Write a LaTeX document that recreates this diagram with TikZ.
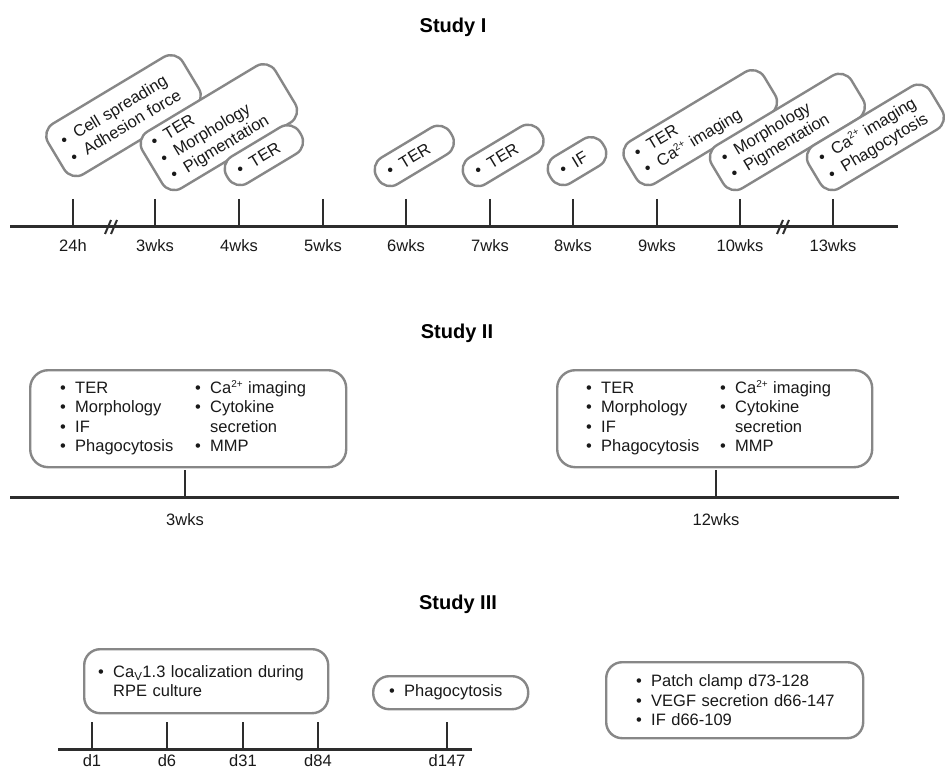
\documentclass[tikz,border=0pt]{standalone}
\usepackage{fontspec}
\setmainfont{Liberation Sans}
\definecolor{axis}{RGB}{45,45,45}
\definecolor{boxc}{RGB}{135,135,135}
\definecolor{txt}{RGB}{25,25,25}
\newcommand{\fs}{\fontsize{16.5}{19.3}\selectfont}
\newcommand{\bl}[1]{\makebox[15pt][l]{\textbullet}#1}
\newcommand{\ind}{\hspace*{15pt}}
\newcommand{\tp}{\raisebox{6pt}{\fontsize{10}{10}\selectfont 2+}}
\begin{document}
\begin{tikzpicture}[x=1pt,y=-1pt,
  tl/.style={draw=axis, line width=3pt},
  tk/.style={draw=axis, line width=2.8pt},
  brk/.style={draw=axis, line width=2pt},
  lab/.style={text=txt, font=\fs, inner sep=0pt},
  ttl/.style={text=black, font=\fontsize{20}{24}\selectfont\bfseries, inner sep=0pt},
  rb/.style={draw=boxc, line width=2.4pt, rounded corners=14pt, fill=white, text=txt, align=left, font=\fs},
  sb/.style={rb, rotate=31, anchor=south west, inner xsep=12pt, inner ysep=0pt},
]
\useasboundingbox (0,0) rectangle (948,770);

% ---------------- Study I ----------------
\node[ttl] (t1) at (453,27) {Study I};
\coordinate (a1s) at (10,227);
\coordinate (a1e) at (898,227);
\draw[tl] (a1s) -- (a1e);
\foreach \x/\l/\n in {73/24h/p1,155/3wks/p2,239/4wks/p3,323/5wks/p4,406/6wks/p5,490/7wks/p6,573/8wks/p7,657/9wks/p8,740/10wks/p9,833/13wks/p10}{
  \coordinate (\n top) at (\x,199);
  \coordinate (\n) at (\x,227);
  \draw[tk] (\n top) -- (\n);
  \node[lab] (\n lab) at (\x,246) {\l};
}
\foreach \x in {112,784}{
  \draw[brk] (\x-7,234) -- (\x-1,220);
  \draw[brk] (\x-1,234) -- (\x+5,220);
}
\node[sb, minimum height=59pt, text width=133pt] (b1) at (71,183) {\bl{Cell spreading}\\\bl{Adhesion force}};
\node[sb, minimum height=66pt, text width=131pt] (b2) at (169,197) {\bl{TER}\\\bl{Morphology}\\\bl{Pigmentation}};
\node[sb, minimum height=31pt, text width=61pt] (b3) at (235,192) {\bl{TER}};
\node[sb, minimum height=31pt, text width=62pt] (b4) at (385,193) {\bl{TER}};
\node[sb, minimum height=31pt, text width=64pt] (b5) at (473,193) {\bl{TER}};
\node[sb, minimum height=31pt, text width=38pt] (b6) at (558,192) {\bl{IF}};
\node[sb, minimum height=49pt, text width=138pt] (b7) at (643,192) {\bl{TER}\\\bl{Ca\tp{} imaging}};
\node[sb, minimum height=50pt, text width=139pt] (b8) at (730,197) {\bl{Morphology}\\\bl{Pigmentation}};
\node[sb, minimum height=50pt, text width=118pt] (b9) at (827,197) {\bl{Ca\tp{} imaging}\\\bl{Phagocytosis}};

% ---------------- Study II ----------------
\node[ttl] (t2) at (457,333) {Study II};
\coordinate (a2s) at (10,497);
\coordinate (a2e) at (899,497);
\draw[tl] (a2s) -- (a2e);
\coordinate (q1top) at (185,470); \coordinate (q1) at (185,497);
\coordinate (q2top) at (716,470); \coordinate (q2) at (716,497);
\draw[tk] (q1top) -- (q1);
\draw[tk] (q2top) -- (q2);
\node[lab] (q1lab) at (185,520) {3wks};
\node[lab] (q2lab) at (716,520) {12wks};
\node[rb, rounded corners=18pt, anchor=north west, text width=256pt, minimum height=97pt, inner xsep=30pt] (c1) at (29,369)
  {\begin{tabular}{@{}p{135pt}@{}l@{}}
   \bl{TER} & \bl{Ca\tp{} imaging}\\
   \bl{Morphology} & \bl{Cytokine}\\
   \bl{IF} & \ind secretion\\
   \bl{Phagocytosis} & \bl{MMP}
   \end{tabular}};
\node[rb, rounded corners=18pt, anchor=north west, text width=257pt, minimum height=97pt, inner xsep=29pt] (c2) at (556,369)
  {\begin{tabular}{@{}p{134pt}@{}l@{}}
   \bl{TER} & \bl{Ca\tp{} imaging}\\
   \bl{Morphology} & \bl{Cytokine}\\
   \bl{IF} & \ind secretion\\
   \bl{Phagocytosis} & \bl{MMP}
   \end{tabular}};

% ---------------- Study III ----------------
\node[ttl] (t3) at (458,604) {Study III};
\coordinate (a3s) at (58,749);
\coordinate (a3e) at (472,749);
\draw[tl] (a3s) -- (a3e);
\foreach \x/\l/\n in {92/d1/r1,167/d6/r2,243/d31/r3,318/d84/r4,447/d147/r5}{
  \coordinate (\n top) at (\x,722);
  \coordinate (\n) at (\x,749);
  \draw[tk] (\n top) -- (\n);
  \node[lab] (\n lab) at (\x,761) {\l};
}
\node[rb, rounded corners=16pt, anchor=north west, minimum height=64pt, text width=222pt, inner xsep=11pt, inner ysep=0pt] (d1) at (83,648)
  {\hspace*{3pt}\bl{Ca\textsubscript{V}1.3 localization during}\\\hspace*{3pt}\ind RPE culture};
\node[rb, rounded corners=16pt, anchor=north west, minimum height=33pt, text width=131pt, inner xsep=12pt, inner ysep=0pt] (d2) at (372,675)
  {\hspace*{4pt}\bl{Phagocytosis}};
\node[rb, rounded corners=16pt, anchor=north west, minimum height=76pt, text width=237pt, inner xsep=10pt, inner ysep=0pt] (d3) at (605,661)
  {\hspace*{20pt}\bl{Patch clamp d73-128}\\\hspace*{20pt}\bl{VEGF secretion d66-147}\\\hspace*{20pt}\bl{IF d66-109}};
\end{tikzpicture}
\end{document}
